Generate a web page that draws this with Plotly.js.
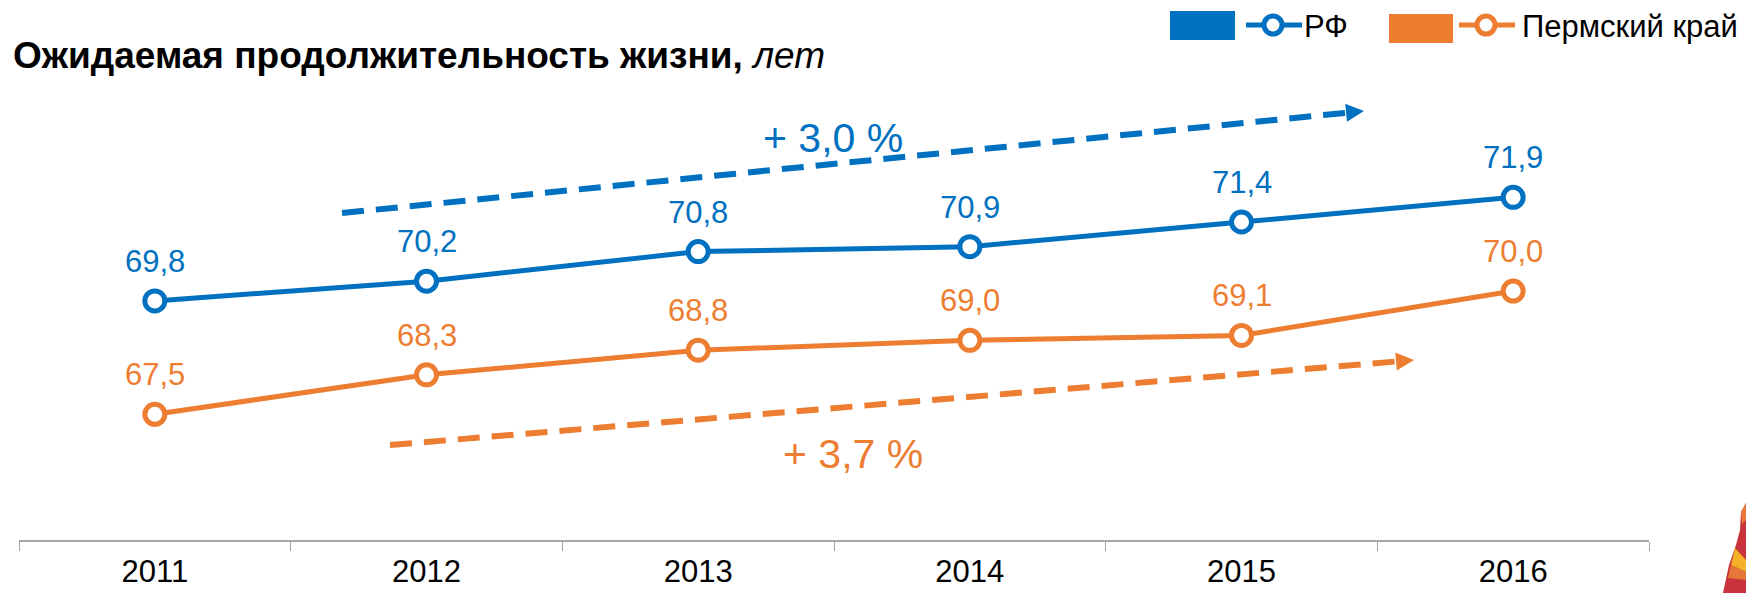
<!DOCTYPE html>
<html><head><meta charset="utf-8">
<script src="https://cdn.plot.ly/plotly-3.0.1.min.js"></script>
<style>html,body{margin:0;padding:0;background:#fff}</style>
</head><body><div id="chart" style="width:1746px;height:593px"></div>
<script>
// ---- data ----
const years = ['2011', '2012', '2013', '2014', '2015', '2016'];
const rfValues = [69.8, 70.2, 70.8, 70.9, 71.4, 71.9];
const permValues = [67.5, 68.3, 68.8, 69.0, 69.1, 70.0];
const seriesNames = ['РФ', 'Пермский край'];
const growthLabels = ['+ 3,0 %', '+ 3,7 %'];
const chartTitle = 'Ожидаемая продолжительность жизни,';
const chartUnit = 'лет';

// ---- style ----
const BLUE = '#0070C0', ORANGE = '#ED7D31', AXIS = '#A6A6A6';
const FONT = 'Liberation Sans, Arial, sans-serif';
const W = 1746, H = 593, ML = 19, MR = 97, MT = 60, MB = 53;
const PW = W - ML - MR, PH = H - MT - MB;
const px = x => (x - ML) / PW;
const py = y => (H - MB - y) / PH;
const fmt = v => v.toFixed(1).replace('.', ',');

function lineTrace(name, vals, color) {
  return {
    type: 'scatter', mode: 'lines+markers', name: name,
    x: years, y: vals,
    line: {color: color, width: 5},
    marker: {size: 20, color: '#fff', line: {color: color, width: 5}},
    cliponaxis: false, showlegend: false, hoverinfo: 'skip'
  };
}

const shapes = [];
const annotations = [];

// data labels (category index on the x axis)
function dataLabels(vals, color) {
  vals.forEach((v, i) => annotations.push({
    x: i, y: v, xref: 'x', yref: 'y', text: fmt(v), showarrow: false,
    xanchor: 'center', yanchor: 'bottom', yshift: 20,
    font: {family: FONT, size: 31, color: color}
  }));
}
dataLabels(rfValues, BLUE);
dataLabels(permValues, ORANGE);

// dashed growth arrows
function arrow(x0, y0, x1, y1, color) {
  const dx = x1 - x0, dy = y1 - y0, len = Math.hypot(dx, dy);
  const ux = dx / len, uy = dy / len, nx = -uy, ny = ux;
  const hl = 18, hw = 9;
  const bx = x1 - hl * ux, by = y1 - hl * uy;
  shapes.push({type: 'line', xref: 'paper', yref: 'paper',
    x0: px(x0), y0: py(y0), x1: px(bx), y1: py(by),
    line: {color: color, width: 6, dash: '22px,12px'}});
  const p = [[x1, y1], [bx + hw * nx, by + hw * ny], [bx - hw * nx, by - hw * ny]];
  shapes.push({type: 'path', xref: 'paper', yref: 'paper',
    path: 'M ' + p.map(q => px(q[0]) + ' ' + py(q[1])).join(' L ') + ' Z',
    fillcolor: color, line: {width: 0}});
}
arrow(342, 213, 1364, 111, BLUE);
arrow(390, 445, 1414, 360, ORANGE);
annotations.push({xref: 'paper', yref: 'paper', x: px(833), y: py(138), text: growthLabels[0],
  showarrow: false, xanchor: 'center', yanchor: 'middle', font: {family: FONT, size: 41, color: BLUE}});
annotations.push({xref: 'paper', yref: 'paper', x: px(853), y: py(454), text: growthLabels[1],
  showarrow: false, xanchor: 'center', yanchor: 'middle', font: {family: FONT, size: 41, color: ORANGE}});

// custom legend
function legendItem(rx0, rx1, ry0, ry1, lx0, lx1, cx, cy, tx, label, color) {
  shapes.push({type: 'rect', xref: 'paper', yref: 'paper', x0: px(rx0), x1: px(rx1), y0: py(ry1), y1: py(ry0),
    fillcolor: color, line: {width: 0}});
  shapes.push({type: 'line', xref: 'paper', yref: 'paper', x0: px(lx0), x1: px(lx1), y0: py(cy), y1: py(cy),
    line: {color: color, width: 5}});
  shapes.push({type: 'circle', xref: 'paper', yref: 'paper', x0: px(cx - 9), x1: px(cx + 9), y0: py(cy + 9), y1: py(cy - 9),
    fillcolor: '#fff', line: {color: color, width: 5}});
  annotations.push({xref: 'paper', yref: 'paper', x: px(tx), y: py(cy + 1), text: label, showarrow: false,
    xanchor: 'left', yanchor: 'middle', xshift: -2, font: {family: FONT, size: 31, color: '#000'}});
}
legendItem(1170, 1235, 11, 40, 1246, 1302, 1273, 25, 1304, seriesNames[0], BLUE);
legendItem(1389, 1453, 14, 43, 1459, 1515, 1486, 25, 1522, seriesNames[1], ORANGE);

// corner decoration (cropped logo)
function poly(pts, color) {
  shapes.push({type: 'path', xref: 'paper', yref: 'paper', layer: 'above',
    path: 'M ' + pts.map(q => px(q[0]) + ' ' + py(q[1])).join(' L ') + ' Z',
    fillcolor: color, line: {width: 0}});
}
poly([[1741, 512], [1746, 503], [1746, 593], [1723, 593], [1729, 565], [1736, 545], [1740, 530]], '#C9333B');
poly([[1741, 512], [1746, 503], [1746, 520], [1742, 524]], '#E8773A');
poly([[1735, 548], [1746, 560], [1746, 572], [1731, 565]], '#F4B12A');
poly([[1731, 565], [1746, 572], [1746, 580], [1728, 578]], '#E8773A');

const layout = {
  width: W, height: H,
  margin: {l: ML, r: MR, t: MT, b: MB, pad: 0},
  paper_bgcolor: '#fff', plot_bgcolor: '#fff',
  showlegend: false,
  title: {
    text: '<b>' + chartTitle + '</b> <i>' + chartUnit + '</i>',
    font: {family: FONT, size: 37, color: '#000'},
    xref: 'container', yref: 'container', x: 13 / W, xanchor: 'left',
    y: 1 - 55 / H, yanchor: 'middle'
  },
  xaxis: {
    type: 'category', range: [-0.5, 5.5], fixedrange: true,
    showline: true, linecolor: AXIS, linewidth: 2,
    ticks: 'outside', tickson: 'boundaries', ticklen: 9, tickcolor: AXIS, tickwidth: 1,
    showgrid: false, zeroline: false, ticklabelstandoff: 3,
    tickfont: {family: FONT, size: 31, color: '#000'}
  },
  yaxis: {
    range: [64.95, 64.95 + PH / 49.3], showgrid: false, zeroline: false,
    showticklabels: false, showline: false, ticks: '', fixedrange: true
  },
  shapes: shapes, annotations: annotations,
  font: {family: FONT}
};

Plotly.newPlot('chart', [lineTrace(seriesNames[0], rfValues, BLUE), lineTrace(seriesNames[1], permValues, ORANGE)],
  layout, {staticPlot: true, displayModeBar: false});
</script></body></html>
